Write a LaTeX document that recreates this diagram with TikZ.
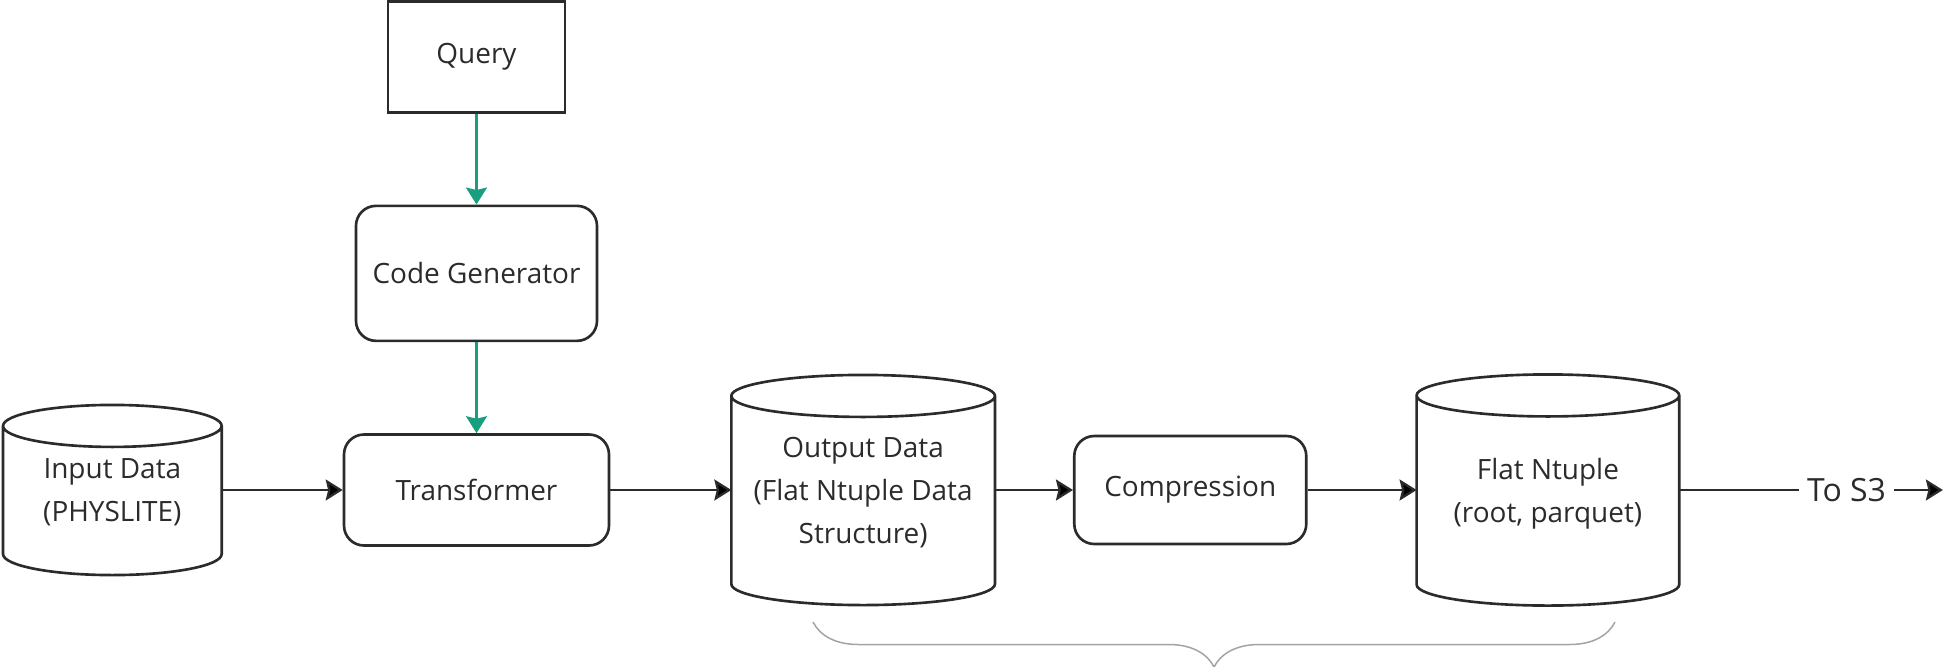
\documentclass[tikz,border=0pt]{standalone}
\usepackage{fontspec}
\setmainfont{Open Sans}
\usetikzlibrary{positioning,calc,arrows.meta,decorations.pathreplacing}
\definecolor{ink}{HTML}{2B2B2B}
\definecolor{querygreen}{HTML}{1A9E80}
\definecolor{bracegray}{HTML}{A3A3A3}

\begin{document}
\begin{tikzpicture}[
        box/.style = {rectangle, draw=ink, line width=1.5pt, text=ink, align=center, font=\fontsize{15.9}{24.5}\selectfont},
        stage/.style = {box, rounded corners=0.4cm},
        store/.style = {rectangle, outer sep=0.75pt, text=ink, text depth=-0.15cm, align=center, font=\fontsize{15.9}{24.5}\selectfont},
        drum/.style = {draw=ink, line width=1.5pt},
        flow/.style = {-{Stealth[length=0.34cm,width=0.42cm,inset=0.05cm]}, draw=ink, line width=1.3pt},
        gen/.style = {flow, draw=querygreen, color=querygreen},
        brace/.style = {draw=bracegray, line width=0.85pt, decorate, decoration={brace,mirror,amplitude=0.9cm}}
    ]
    \useasboundingbox (0,0) rectangle (38.92,-13.34);

    \node[stage, minimum width=5.3cm, minimum height=2.22cm] (transformer) at (9.53,-9.8) {Transformer};
    \node[stage, minimum width=4.82cm, minimum height=2.7cm] (codegen) [above=1.82cm of transformer] {Code Generator};
    \node[box, minimum width=3.54cm, minimum height=2.22cm] (query) [above=1.82cm of codegen] {Query};

    \node[store, minimum width=4.32cm, minimum height=3.35cm] (input) [left=2.42cm of transformer] {Input Data\\(PHYSLITE)};
    \node[store, minimum width=5.22cm, minimum height=4.55cm] (output) [right=2.42cm of transformer] {Output Data\\(Flat Ntuple Data\\Structure)};
    \node[stage, minimum width=4.64cm, minimum height=2.16cm] (compression) [right=1.56cm of output] {Compression};
    \node[store, minimum width=5.2cm, minimum height=4.57cm] (flat) [right=2.18cm of compression] {Flat Ntuple\\(root, parquet)};

    \node[text=ink, inner sep=0.15cm, font=\fontsize{18.2}{22}\selectfont] (tos3) [right=2.4cm of flat] {To S3};
    \coordinate[right=0.98cm of tos3] (s3end);

    % storage drums around the store nodes
    \foreach \s in {input, output, flat}
        \draw[drum] let \p1 = (\s.north west), \p2 = (\s.south east), \n1 = {(\x2-\x1)/2} in
            (\x1,\y1-0.42cm) -- (\x1,\y2+0.42cm)
            arc[start angle=180, end angle=360, x radius=\n1, y radius=0.42cm]
            -- (\x2,\y1-0.42cm)
            arc[start angle=0, end angle=360, x radius=\n1, y radius=0.42cm];

    \path[gen] (query) edge (codegen)
               (codegen) edge (transformer);
    \path[flow] (input) edge (transformer)
                (transformer) edge (output)
                (output) edge (compression)
                (compression) edge (flat)
                (tos3) edge (s3end);
    \draw[ink, line width=1.3pt] (flat) -- (tos3);

    \coordinate (brl) at (16.26,-12.44);
    \coordinate (brr) at (32.3,-12.44);
    \draw[brace] (brl) -- (brr);
\end{tikzpicture}
\end{document}
